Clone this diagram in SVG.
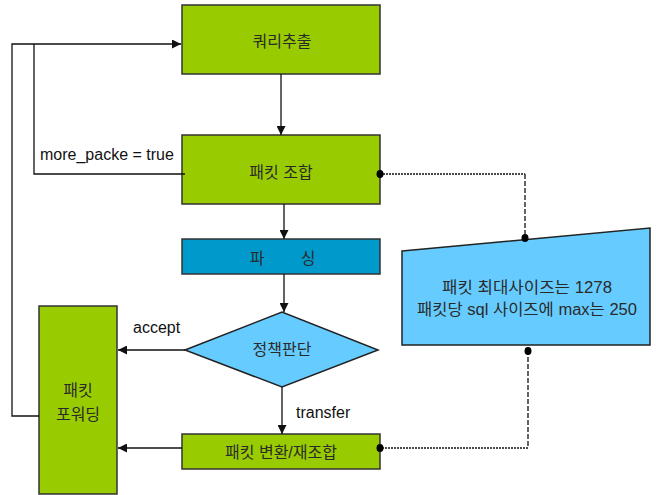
<svg xmlns="http://www.w3.org/2000/svg" width="656" height="495" viewBox="0 0 656 495">
  <style>
    .box { fill: #99cc00; stroke: #333333; stroke-width: 1.5; }
    .parse { fill: #0099cc; stroke: #333333; stroke-width: 1.5; }
    .sky { fill: #66ccff; stroke: #222222; stroke-width: 1.5; }
    .lbl { font-family: "Liberation Sans", "Noto Sans CJK KR", sans-serif; font-size: 16px; fill: #2a2a2a; text-anchor: middle; }
    .edge { font-family: "Liberation Sans", "Noto Sans CJK KR", sans-serif; font-size: 16px; fill: #111111; }
    .wire { fill: none; stroke: #111111; stroke-width: 1.3; }
    .dotted { fill: none; stroke: #111111; stroke-width: 1.6; stroke-dasharray: 2 1; }
    .dashed { fill: none; stroke: #111111; stroke-width: 1.3; stroke-dasharray: 5 2; }
    .pin { fill: #000000; }
  </style>
  <defs>
    <marker id="arrow" viewBox="0 0 10 10" refX="10" refY="5" markerWidth="9" markerHeight="9" markerUnits="userSpaceOnUse" orient="auto">
      <path d="M0,0 L10,5 L0,10 Z" fill="#111111"/>
    </marker>
  </defs>

  <g id="query-extract">
    <rect class="box" x="182" y="5" width="198" height="69"/>
    <text class="lbl" x="282" y="47">쿼리추출</text>
  </g>

  <g id="packet-assemble">
    <rect class="box" x="182" y="135" width="198" height="69"/>
    <text class="lbl" x="281" y="178">패킷 조합</text>
  </g>

  <g id="parse">
    <rect class="parse" x="182" y="239" width="198" height="35"/>
    <text class="lbl" y="264"><tspan x="257">파</tspan><tspan x="308">싱</tspan></text>
  </g>

  <g id="policy">
    <polygon class="sky" points="185,350 282,312 378,350 282,387"/>
    <text class="lbl" x="282" y="355">정책판단</text>
  </g>

  <g id="packet-transform">
    <rect class="box" x="182" y="434" width="198" height="35"/>
    <text class="lbl" x="281" y="458">패킷 변환/재조합</text>
  </g>

  <g id="packet-forward">
    <rect class="box" x="39" y="306" width="78" height="188"/>
    <text class="lbl" x="78" y="396">패킷</text>
    <text class="lbl" x="78" y="420">포워딩</text>
  </g>

  <g id="size-limits">
    <polygon class="sky" points="402,251 650,228 650,345 402,345"/>
    <text class="lbl" x="527" y="293" textLength="170" lengthAdjust="spacingAndGlyphs">패킷 최대사이즈는 1278</text>
    <text class="lbl" x="527" y="315" textLength="220" lengthAdjust="spacingAndGlyphs">패킷당 sql 사이즈에 max는 250</text>
  </g>

  <g id="connectors">
    <!-- loop back from forwarding to query extraction -->
    <polyline class="wire" points="39,416 12,416 12,44 181,44" marker-end="url(#arrow)"/>
    <!-- more packets: assembly back to query extraction -->
    <polyline class="wire" points="185,174 34,174 34,44"/>
    <line class="wire" x1="281" y1="74" x2="281" y2="135" marker-end="url(#arrow)"/>
    <line class="wire" x1="284" y1="204" x2="284" y2="239" marker-end="url(#arrow)"/>
    <line class="wire" x1="284" y1="274" x2="284" y2="312" marker-end="url(#arrow)"/>
    <line class="wire" x1="185" y1="350" x2="118" y2="350" marker-end="url(#arrow)"/>
    <line class="wire" x1="282" y1="387" x2="282" y2="434" marker-end="url(#arrow)"/>
    <line class="wire" x1="182" y1="448" x2="118" y2="448" marker-end="url(#arrow)"/>
    <!-- size limits note links -->
    <line class="dotted" x1="380" y1="174" x2="525" y2="174"/>
    <line class="dashed" x1="525" y1="174" x2="525" y2="238"/>
    <line class="dashed" x1="528" y1="350" x2="528" y2="448"/>
    <line class="dotted" x1="528" y1="448" x2="380" y2="448"/>
    <ellipse class="pin" cx="380" cy="174" rx="3.5" ry="4"/>
    <ellipse class="pin" cx="525" cy="238" rx="3.5" ry="4"/>
    <ellipse class="pin" cx="528" cy="351" rx="3.5" ry="4"/>
    <ellipse class="pin" cx="380" cy="448" rx="3.5" ry="4"/>
    <text class="edge" x="40" y="160">more_packe = true</text>
    <text class="edge" x="133" y="333">accept</text>
    <text class="edge" x="296" y="418">transfer</text>
  </g>
</svg>
